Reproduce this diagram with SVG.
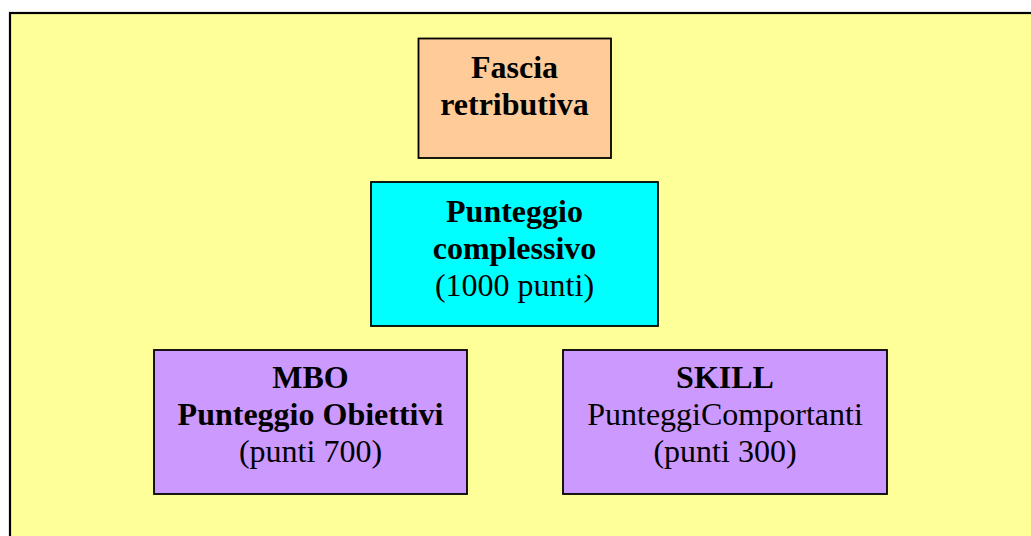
<svg xmlns="http://www.w3.org/2000/svg" width="1031" height="536" viewBox="0 0 1031 536">
<style>
.box{stroke:#000;stroke-width:1.8}
.t{font-family:"Liberation Serif","Times New Roman",serif;font-size:32px;fill:#000;text-anchor:middle}
.b{font-weight:bold}
</style>
<rect x="0" y="0" width="1031" height="536" fill="#fff"/>
<rect x="10" y="13" width="1040" height="540" fill="#FFFF99" stroke="#000" stroke-width="2.2"/>
<g id="fascia">
<rect class="box" x="418.5" y="38.5" width="192.5" height="119.5" fill="#FFCC99"/>
<text class="t b" x="514.5" y="78">Fascia</text>
<text class="t b" x="514.5" y="115">retributiva</text>
</g>
<g id="punteggio">
<rect class="box" x="371" y="182" width="287" height="144" fill="#00FFFF"/>
<text class="t b" x="514.5" y="222">Punteggio</text>
<text class="t b" x="514.5" y="259">complessivo</text>
<text class="t" x="514.5" y="296">(1000 punti)</text>
</g>
<g id="mbo">
<rect class="box" x="154" y="350" width="313" height="144" fill="#CC99FF"/>
<text class="t b" x="310.5" y="388">MBO</text>
<text class="t b" x="310.5" y="425">Punteggio Obiettivi</text>
<text class="t" x="310.5" y="462">(punti 700)</text>
</g>
<g id="skill">
<rect class="box" x="563" y="350" width="324" height="144" fill="#CC99FF"/>
<text class="t b" x="725" y="388">SKILL</text>
<text class="t" x="725" y="425">PunteggiComportanti</text>
<text class="t" x="725" y="462">(punti 300)</text>
</g>
<g id="connectors"></g>
</svg>
